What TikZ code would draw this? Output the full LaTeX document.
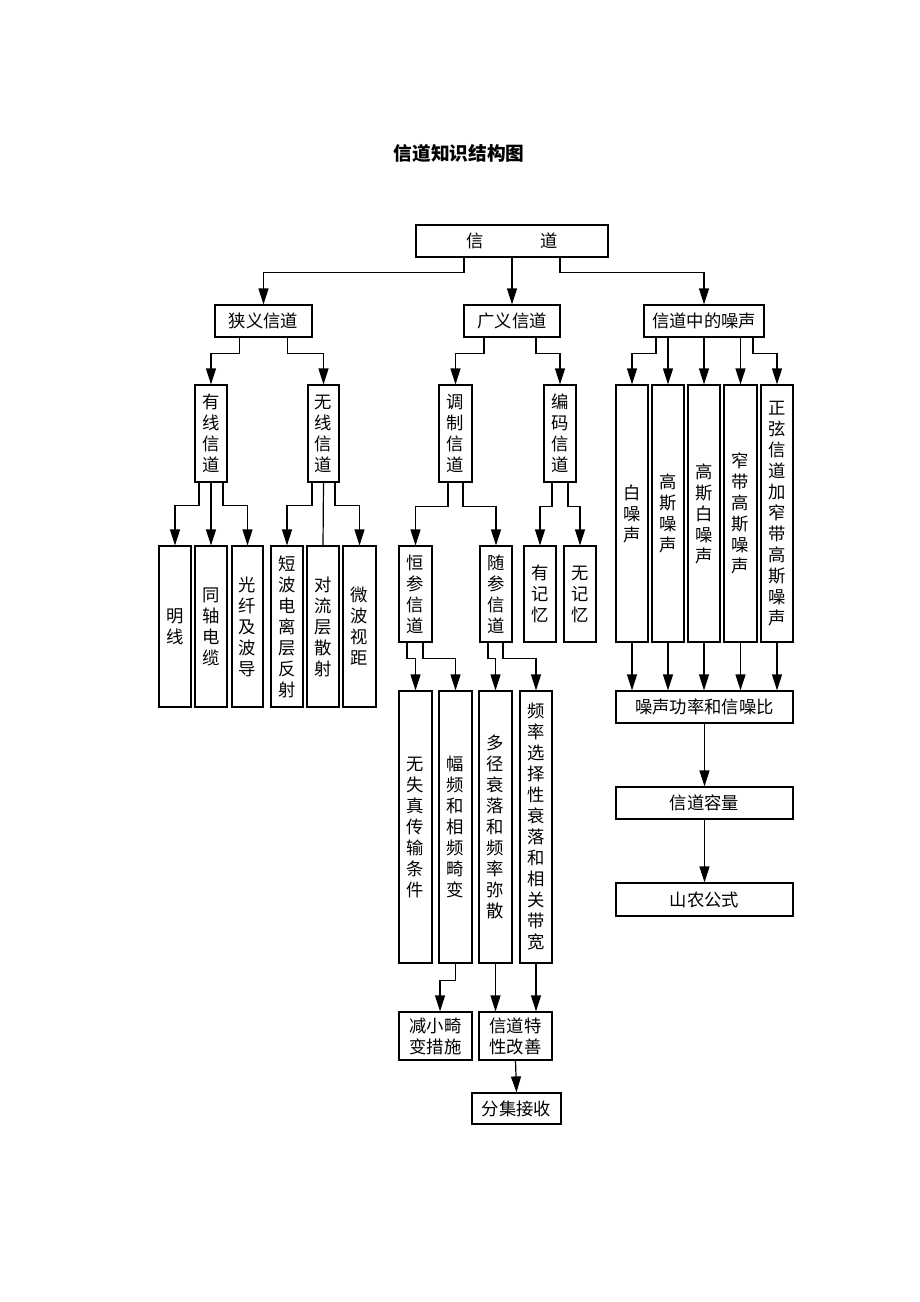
\documentclass[tikz,border=0pt]{standalone}
\usepackage{fontspec}
\newfontfamily\cjk{Noto Sans CJK SC}
\usetikzlibrary{arrows.meta}
\tikzset{
  box/.style={draw, line width=0.9pt, inner sep=0pt, align=center, font=\cjk\fontsize{13}{15.75}\selectfont},
  arr/.style={line width=0.9pt, -{Triangle[length=12pt,width=7.5pt]}},
  ln/.style={line width=0.9pt},
  ttl/.style={font=\cjk\bfseries\fontsize{14}{16}\selectfont, inner sep=0pt},
}
\newcommand\bx[6]{\node[box, minimum width={(#4-#2)*0.75pt}, minimum height={(#5-#3)*0.75pt}] (#1) at ({(#2+#4)/2},{(#3+#5)/2}) {#6};}
\begin{document}
\begin{tikzpicture}[x=0.75pt,y=-0.75pt]
\useasboundingbox (0,0) rectangle (920,1302);
\fill[white] (0,0) rectangle (920,1302);
\node[ttl] (title) at (459,153) {信道知识结构图};
% level 1
\bx{T}{416}{225}{608}{257}{信\hspace{42pt}道}
% level 2
\bx{N1}{215}{305}{312}{337}{狭义信道}
\bx{N2}{464}{305}{560}{337}{广义信道}
\bx{N3}{644}{305}{764}{337}{信道中的噪声}
% level 3
\bx{A1}{195}{385}{227}{482}{有\\线\\信\\道}
\bx{A2}{308}{385}{339}{482}{无\\线\\信\\道}
\bx{B1}{439}{385}{472}{482}{调\\制\\信\\道}
\bx{B2}{544}{385}{576}{482}{编\\码\\信\\道}
\bx{C1}{616}{385}{648}{642}{白\\噪\\声}
\bx{C2}{652}{385}{684}{642}{高\\斯\\噪\\声}
\bx{C3}{688}{385}{720}{642}{高\\斯\\白\\噪\\声}
\bx{C4}{724}{385}{757}{642}{窄\\带\\高\\斯\\噪\\声}
\bx{C5}{761}{385}{793}{642}{正\\弦\\信\\道\\加\\窄\\带\\高\\斯\\噪\\声}
% level 4 left
\bx{D1}{159}{546}{191}{707}{明\\线}
\bx{D2}{195}{546}{227}{707}{同\\轴\\电\\缆}
\bx{D3}{232}{546}{263}{707}{光\\纤\\及\\波\\导}
\bx{D4}{271}{546}{303}{707}{短\\波\\电\\离\\层\\反\\射}
\bx{D5}{307}{546}{339}{707}{对\\流\\层\\散\\射}
\bx{D6}{343}{546}{376}{707}{微\\波\\视\\距}
% level 4 middle
\bx{E1}{399}{546}{432}{642}{恒\\参\\信\\道}
\bx{E2}{480}{546}{512}{642}{随\\参\\信\\道}
\bx{E3}{524}{546}{556}{642}{有\\记\\忆}
\bx{E4}{564}{546}{596}{642}{无\\记\\忆}
% level 5
\bx{F1}{399}{691}{432}{963}{无\\失\\真\\传\\输\\条\\件}
\bx{F2}{439}{691}{472}{963}{幅\\频\\和\\相\\频\\畸\\变}
\bx{F3}{479}{691}{512}{963}{多\\径\\衰\\落\\和\\频\\率\\弥\\散}
\bx{F4}{520}{691}{552}{963}{频\\率\\选\\择\\性\\衰\\落\\和\\相\\关\\带\\宽}
\bx{G1}{399}{1012}{472}{1060}{减小畸\\变措施}
\bx{G2}{479}{1012}{552}{1060}{信道特\\性改善}
\bx{H}{472}{1093}{561}{1124}{分集接收}
% noise chain
\bx{P}{616}{691}{793}{723}{噪声功率和信噪比}
\bx{Q}{616}{787}{793}{819}{信道容量}
\bx{R}{616}{883}{793}{916}{山农公式}
% connectors: top
\draw[arr] ([xshift=-36pt]T.south) -- ++(0,15) -| (N1.north);
\draw[arr] (T.south) -- (N2.north);
\draw[arr] ([xshift=36pt]T.south) -- ++(0,15) -| (N3.north);
% N1
\draw[arr] ([xshift=-18pt]N1.south) -- ++(0,16) -| (A1.north);
\draw[arr] ([xshift=18pt]N1.south) -- ++(0,16) -| (A2.north);
% N2
\draw[arr] ([xshift=-21pt]N2.south) -- ++(0,16) -| (B1.north);
\draw[arr] ([xshift=18pt]N2.south) -- ++(0,16) -| (B2.north);
% N3
\draw[arr] ([xshift=-36pt]N3.south) -- ++(0,16) -| (C1.north);
\draw[arr] (C2.north |- N3.south) -- (C2.north);
\draw[arr] (C3.north |- N3.south) -- (C3.north);
\draw[arr] (C4.north |- N3.south) -- (C4.north);
\draw[arr] ([xshift=36.75pt]N3.south) -- ++(0,16) -| (C5.north);
% noise to P
\draw[arr] (C1.south) -- (C1.south |- P.north);
\draw[arr] (C2.south) -- (C2.south |- P.north);
\draw[arr] (C3.south) -- (C3.south |- P.north);
\draw[arr] (C4.south) -- (C4.south |- P.north);
\draw[arr] (C5.south) -- (C5.south |- P.north);
\draw[arr] (P.south) -- (Q.north);
\draw[arr] (Q.south) -- (R.north);
% A1
\draw[arr] ([xshift=-9pt]A1.south) -- ++(0,23) -| (D1.north);
\draw[arr] (A1.south) -- (D2.north);
\draw[arr] ([xshift=9pt]A1.south) -- ++(0,23) -| (D3.north);
% A2
\draw[arr] ([xshift=-8.6pt]A2.south) -- ++(0,23) -| (D4.north);
\draw[ln] (A2.south) -- (D5.north);
\draw[arr] ([xshift=8.6pt]A2.south) -- ++(0,23) -| (D6.north);
% B1
\draw[arr] ([xshift=-5.6pt]B1.south) -- ++(0,24) -| (E1.north);
\draw[arr] ([xshift=5.6pt]B1.south) -- ++(0,24) -| (E2.north);
% B2
\draw[arr] ([xshift=-6pt]B2.south) -- ++(0,24) -| (E3.north);
\draw[arr] ([xshift=6pt]B2.south) -- ++(0,24) -| (E4.north);
% E1
\draw[arr] ([xshift=-6.4pt]E1.south) -- ++(0,16) -| (F1.north);
\draw[arr] ([xshift=5.6pt]E1.south) -- ++(0,16) -| (F2.north);
% E2
\draw[arr] ([xshift=-6pt]E2.south) -- ++(0,16) -| (F3.north);
\draw[arr] ([xshift=5.25pt]E2.south) -- ++(0,16) -| (F4.north);
% F to G
\draw[arr] (F2.south) -- ++(0,17) -| ([xshift=3.4pt]G1.north);
\draw[arr] (F3.south) -- (F3.south |- G2.north);
\draw[arr] (F4.south) -- (F4.south |- G2.north);
\draw[arr] (G2.south) -- (H.north);
\end{tikzpicture}
\end{document}
